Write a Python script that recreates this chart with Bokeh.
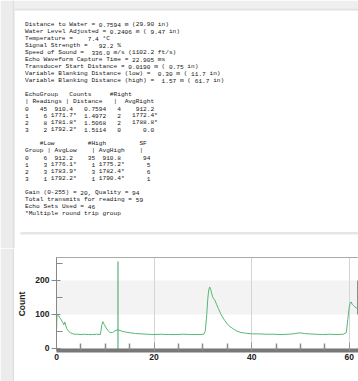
import re
from bokeh.plotting import figure
from bokeh.models import Range1d, FixedTicker, ColumnDataSource
from bokeh.layouts import column, row
from bokeh.embed import file_html
from bokeh.resources import INLINE
from bokeh.core.properties import value

# ---------------- report text data ----------------
header_lines = [
    "Distance to Water = 0.7594 m (29.90 in)",
    "Water Level Adjusted = 0.2406 m ( 9.47 in)",
    "Temperature =    7.4 °C",
    "Signal Strength =   92.2 %",
    "Speed of Sound =  336.0 m/s (1102.2 ft/s)",
    "Echo Waveform Capture Time = 22.905 ms",
    "Transducer Start Distance = 0.0190 m ( 0.75 in)",
    "Variable Blanking Distance (low) =  0.30 m ( 11.7 in)",
    "Variable Blanking Distance (high) =  1.57 m ( 61.7 in)",
]
table1_header = [
    "EchoGroup   Counts     #Right",
    "| Readings | Distance   |  AvgRight",
]
echo_group = [0, 1, 2, 3]
readings = [45, 6, 8, 2]
avg_counts = ["910.4", "1771.7*", "1781.8*", "1792.2*"]
distance_m = ["0.7594", "1.4972", "1.5068", "1.5114"]
n_right = [4, 2, 2, 0]
avg_right = ["912.2", "1772.4*", "1788.8*", "0.0"]

table2_header = [
    "    #Low         #High         SF",
    "Group | AvgLow    | AvgHigh    |",
]
n_low = [6, 3, 3, 1]
avg_low = ["912.2", "1776.1*", "1783.9*", "1792.2*"]
n_high = [35, 1, 3, 1]
avg_high = ["910.8", "1775.2*", "1782.4*", "1790.4*"]
sf = [94, 5, 6, 1]

footer_lines = [
    "Gain (0-255) = 20, Quality = 94",
    "Total transmits for reading = 59",
    "Echo Sets Used = 46",
    "*Multiple round trip group",
]

# ---------------- waveform data ----------------
time_ms = [0, 0.1, 0.4, 0.7, 1.0, 1.3, 1.5, 1.7, 1.9, 2.1, 2.4, 2.8, 3.2, 3.7,
           4.3, 5.0, 5.8, 6.6, 7.4, 8.2, 9.0, 9.3, 9.5, 9.8, 10.2, 10.6, 11.0,
           11.5, 12.0, 12.5, 13.0, 13.6, 14.3, 15.2, 16.2, 17.3, 18.5, 20.0,
           21.5, 23.0, 24.5, 26.0, 27.5, 29.0, 30.2, 30.5, 30.8, 31.0, 31.2,
           31.4, 31.6, 31.8, 32.0, 32.2, 32.5, 32.8, 33.2, 33.6, 34.0, 34.5,
           35.0, 35.6, 36.3, 37.0, 37.8, 38.8, 40.0, 41.5, 43.0, 44.5, 46.0,
           47.5, 48.5, 49.3, 50.0, 50.8, 51.8, 53.0, 54.5, 56.0, 57.5, 58.8,
           59.4, 59.7, 60.0, 60.2, 60.4, 60.6, 60.9, 61.2, 61.6, 62.0]
counts = [48, 100, 97, 90, 84, 76, 70, 78, 68, 58, 52, 47, 44, 42,
          42, 41, 42, 41, 41, 42, 41, 70, 79, 70, 60, 52, 47,
          47, 52, 55, 53, 50, 48, 46, 44, 43, 42, 41,
          42, 41, 41, 42, 41, 41, 42, 52, 100, 145, 172,
          181, 174, 162, 152, 147, 141, 130, 117, 104, 93, 82,
          72, 64, 57, 51, 47, 45, 43, 43, 42, 42, 41,
          42, 43, 45, 46, 44, 43, 42, 41, 42, 41, 42,
          47, 85, 122, 134, 137, 130, 126, 122, 118, 114]
marker_time = [12.6]
marker_bottom = [-6]
marker_top = [256]

x_ticks = [0, 20, 40, 60]
x_minor = [5, 10, 15, 25, 30, 35, 45, 50, 55]
y_ticks = [0, 100, 200]
y_minor = [50, 150, 250]


def split_star(s):
    return (s[:-1], "*") if s.endswith("*") else (s, " ")


lines = list(header_lines) + [""] + list(table1_header)
for g, n, a, d, nr, ar in zip(echo_group, readings, avg_counts, distance_m, n_right, avg_right):
    an, ast = split_star(a)
    arn, ars = split_star(ar)
    lines.append(f"{g}{n:>5} {an:>6}{ast}  {d:>6}{nr:>4}{arn:>9}{ars}".rstrip())
lines += [""] + list(table2_header)
for g, nl, al, nh, ah, s in zip(echo_group, n_low, avg_low, n_high, avg_high, sf):
    aln, als = split_star(al)
    ahn, ahs = split_star(ah)
    lines.append(f"{g}{nl:>5}{aln:>7}{als}{nh:>5}{ahn:>7}{ahs}{s:>7}")
lines += [""] + list(footer_lines)

# every word is placed at its own monospace column (advance = 0.6 em)
FS = 6.15
X0, CW, Y0, LH = 24.5, 0.6 * FS, 24.0, 7.0
tx, ty, tt = [], [], []
for i, line in enumerate(lines):
    for m in re.finditer(r"\S+", line):
        tx.append(X0 + m.start() * CW)
        ty.append(Y0 + i * LH)
        tt.append(m.group(0))

# ---------------- text panel (page pixel coordinates) ----------------
top = figure(width=358, height=248, toolbar_location=None, output_backend="svg",
             x_range=Range1d(0, 358), y_range=Range1d(248, 0),
             x_axis_type=None, y_axis_type=None, min_border=0,
             background_fill_color="white", border_fill_color="white",
             outline_line_color=None)
top.frame_align = False
top.grid.visible = False
top.quad(left=[0], right=[12], top=[0], bottom=[248], fill_color="#ececec", line_color=None)
top.quad(left=[12], right=[14], top=[0], bottom=[248], fill_color="#dedede", line_color=None)
top.quad(left=[14], right=[358], top=[0], bottom=[8], fill_color="#efefef", line_color=None)
top.quad(left=[14], right=[358], top=[8], bottom=[10], fill_color="#e0e0e0", line_color=None)
top.quad(left=[20], right=[358], top=[231.5], bottom=[234], fill_color="#e6e6e6", line_color=None)
top.text(x="x", y="y", text="text", source=ColumnDataSource(dict(x=tx, y=ty, text=tt)),
         text_font=value("Liberation Mono"), text_font_size=f"{FS}px",
         text_baseline="middle", text_align="left", text_color="#161616")

# ---------------- left strip beside the chart ----------------
strip = figure(width=14, height=133, toolbar_location=None, output_backend="svg",
               x_range=Range1d(0, 14), y_range=Range1d(0, 133),
               x_axis_type=None, y_axis_type=None, min_border=0,
               background_fill_color="white", border_fill_color="white",
               outline_line_color=None)
strip.frame_align = False
strip.grid.visible = False
strip.quad(left=[0], right=[12], top=[133], bottom=[0], fill_color="#ececec", line_color=None)
strip.quad(left=[12], right=[14], top=[133], bottom=[0], fill_color="#dedede", line_color=None)

# ---------------- chart ----------------
p = figure(width=344, height=133, toolbar_location=None, output_backend="svg",
           x_range=Range1d(0, 61.9), y_range=Range1d(-5.9, 267.6),
           min_border_left=40, min_border_right=0, min_border_top=9, min_border_bottom=31,
           background_fill_color="#f3f3f3", border_fill_color="white",
           outline_line_color="#8c8c8c")
p.frame_align = False

p.ygrid.ticker = FixedTicker(ticks=y_ticks)
p.ygrid.grid_line_color = None
p.ygrid.band_fill_color = "white"
p.ygrid.band_fill_alpha = 1
p.ygrid.level = "image"
p.xgrid.ticker = FixedTicker(ticks=x_ticks)
p.xgrid.grid_line_color = "#d4d4d4"

p.line(time_ms, counts, line_color="#55b775", line_width=1)
p.segment(x0=marker_time, y0=marker_bottom, x1=marker_time, y1=marker_top,
          line_color="#3aa064", line_width=1)

xa = p.xaxis[0]
xa.ticker = FixedTicker(ticks=x_ticks, minor_ticks=x_minor)
xa.axis_line_width = 4
xa.axis_line_color = "#777777"
xa.major_tick_in = 8
xa.major_tick_out = 0
xa.minor_tick_in = 7
xa.minor_tick_out = 0
xa.major_tick_line_color = "#999999"
xa.minor_tick_line_color = "#8a8a8a"
xa.minor_tick_line_width = 1.5
xa.major_label_standoff = 3

ya = p.yaxis[0]
ya.ticker = FixedTicker(ticks=y_ticks, minor_ticks=y_minor)
ya.axis_line_color = "#888888"
ya.major_tick_out = 5
ya.major_tick_in = 4
ya.minor_tick_in = 6
ya.minor_tick_out = 0
ya.major_tick_line_color = "#888888"
ya.minor_tick_line_color = "#888888"
ya.major_label_standoff = 2
ya.axis_label = "Count"
ya.axis_label_standoff = 5
ya.axis_label_text_font = "Liberation Sans"
ya.axis_label_text_font_style = "bold"
ya.axis_label_text_font_size = "8.5px"
ya.axis_label_text_color = "#222222"

for ax in (xa, ya):
    ax.major_label_text_font = "Liberation Sans"
    ax.major_label_text_font_style = "bold"
    ax.major_label_text_font_size = "8.5px"
    ax.major_label_text_color = "#222222"

layout = column(top, row(strip, p))
open("out.html", "w").write(file_html(layout, INLINE))
